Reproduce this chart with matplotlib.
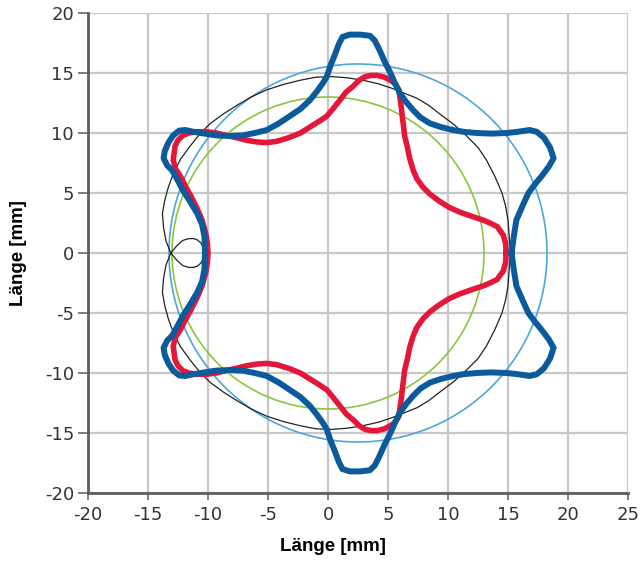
import numpy as np
import matplotlib
matplotlib.use("Agg")
import matplotlib.pyplot as plt
from matplotlib.patches import Circle

plt.rcParams["axes.unicode_minus"] = False
plt.rcParams["font.family"] = ["DejaVu Sans"]

# upper half of each contour, lower half is the mirror
blue_x = [15.3, 15.5, 15.7, 16.2, 16.7, 17.3, 17.8, 18.4, 18.8, 18.5, 18.0, 17.4, 16.8,
          15.8, 14.9, 13.6, 12.4, 11.3, 10.4, 9.4, 8.5, 7.7, 7.1, 6.5, 6.0, 5.6, 5.2,
          4.7, 4.3, 3.9, 3.5, 2.7, 1.8, 1.2, 0.9, 0.6, 0.2, -0.1, -0.4, -0.9, -1.5,
          -2.3, -3.2, -4.1, -5.1, -6.1, -7.1, -8.2, -9.3, -10.3, -11.2, -11.9, -12.4,
          -12.9, -13.3, -13.6, -13.7, -13.4, -13.0, -12.6, -12.1, -11.5, -10.9, -10.5,
          -10.3, -10.25]
blue_y = [0.0, 1.5, 2.75, 3.9, 5.0, 5.8, 6.4, 7.2, 7.9, 8.8, 9.6, 10.1, 10.25,
          10.1, 10.0, 9.95, 10.0, 10.1, 10.25, 10.5, 10.8, 11.3, 11.9, 12.6, 13.3, 14.1, 15.0,
          16.0, 16.9, 17.7, 18.1, 18.2, 18.2, 18.0, 17.4, 16.6, 15.6, 14.7, 14.2, 13.5, 12.75,
          12.0, 11.4, 10.8, 10.25, 10.0, 9.8, 9.75, 9.8, 9.95, 10.1, 10.25, 10.2,
          9.8, 9.2, 8.5, 7.9, 7.3, 6.9, 6.2, 5.25, 4.3, 3.3, 2.4,
          1.4, 0.0]

red_x = [14.85, 14.8, 14.6, 14.1, 13.5, 12.9, 12.0, 11.0, 10.1, 9.3, 8.5, 7.9, 7.4, 7.1,
         6.8, 6.6, 6.4, 6.3, 6.2, 6.1, 6.0, 5.9, 5.6, 5.2, 4.7, 4.1, 3.6, 3.1, 2.6,
         2.1, 1.5, 1.0, 0.4, -0.1, -0.7, -1.5, -2.3, -3.3, -4.3, -5.1, -5.9, -6.8,
         -7.6, -8.5, -9.3, -10.1, -10.9, -11.6, -12.1, -12.5, -12.75, -12.9, -12.7,
         -12.3, -11.9, -11.4, -10.9, -10.5, -10.2, -10.05, -10.0]
red_y = [0.0, 0.8, 1.5, 2.2, 2.5, 2.75, 3.05, 3.4, 3.8, 4.3, 4.9, 5.5, 6.2, 6.9,
         7.9, 8.9, 9.7, 10.5, 11.3, 12.2, 12.9, 13.6, 14.1, 14.4, 14.65, 14.8, 14.8, 14.7, 14.4,
         13.9, 13.4, 12.75, 12.0, 11.4, 11.0, 10.5, 10.0, 9.6, 9.3, 9.2, 9.25, 9.4,
         9.6, 9.8, 10.0, 10.1, 10.1, 10.0, 9.8, 9.4, 8.9, 7.75, 7.0,
         6.4, 5.6, 4.7, 3.7, 2.75, 1.7, 0.8, 0.0]

# thin black trochoid: outer arc from the right down to the crossing point
black_x = [15.2, 15.1, 15.0, 14.8, 14.5, 13.9, 13.2, 12.5, 11.6, 10.5, 9.3, 8.4, 7.4,
           6.4, 5.4, 4.2, 2.9, 1.6, 0.3, -1.0, -2.3, -3.7, -5.1, -6.4, -7.6, -8.7,
           -9.8, -10.7, -11.5, -12.3, -12.9, -13.3, -13.6, -13.8, -13.7, -13.5, -13.1]
black_y = [0.0, 1.4, 2.75, 3.9, 5.0, 6.4, 7.75, 8.8, 9.7, 10.7, 11.6, 12.3, 12.9,
           13.3, 13.7, 14.1, 14.4, 14.6, 14.7, 14.65, 14.4, 14.05, 13.6, 13.0, 12.3, 11.6,
           10.8, 9.9, 8.9, 7.8, 6.6, 5.5, 4.4, 3.3, 2.1, 1.0, 0.0]
# small loop, upper half, from its right end back to the crossing
loop_x = [-10.3, -10.4, -10.6, -10.9, -11.2, -11.6, -12.1, -12.6, -13.1]
loop_y = [0.0, 0.5, 0.85, 1.1, 1.2, 1.2, 1.05, 0.6, 0.0]

# reference circles: (centre x, centre y, radius)
circle_lightblue = (2.5, 0.0, 15.75)
circle_green = (0.0, 0.0, 13.0)

xticks = [-20, -15, -10, -5, 0, 5, 10, 15, 20, 25]
yticks = [-20, -15, -10, -5, 0, 5, 10, 15, 20]


def closed(xs, ys):
    xs = np.array(xs)
    ys = np.array(ys)
    return (np.concatenate([xs, xs[::-1][1:]]),
            np.concatenate([ys, -ys[::-1][1:]]))


fig = plt.figure(figsize=(6.41, 5.61), dpi=100)
ax = fig.add_axes([88 / 641, 1 - 493 / 561, 540 / 641, 480 / 561])

grey = "#c8c8c8"
ax.set_xlim(-20, 25)
ax.set_ylim(-20, 20)
ax.set_xticks(xticks)
ax.set_yticks(yticks)
ax.grid(True, color=grey, lw=1.6)
ax.set_axisbelow(True)
for s in ["top", "right"]:
    ax.spines[s].set_visible(False)
for s in ["left", "bottom"]:
    ax.spines[s].set_color("#5e5e5e")
    ax.spines[s].set_linewidth(2.0)
ax.tick_params(colors="#6a6a6a", width=1.2, labelsize=13, labelcolor="#333333")
ax.tick_params(axis="x", length=5, pad=4)
ax.tick_params(axis="y", length=7, pad=3)

cx, cy, r = circle_lightblue
ax.add_patch(Circle((cx, cy), r, fill=False, ec="#4da6dc", lw=1.2, zorder=2))
cx, cy, r = circle_green
ax.add_patch(Circle((cx, cy), r, fill=False, ec="#8cc63f", lw=1.2, zorder=2))

# black path: outer upper arc, lower loop half, upper loop half, outer lower arc
bx = np.array(black_x)
by = np.array(black_y)
lx = np.array(loop_x)
ly = np.array(loop_y)
path_x = np.concatenate([bx, lx[::-1][1:], lx[1:], bx[::-1][1:]])
path_y = np.concatenate([by, -ly[::-1][1:], ly[1:], -by[::-1][1:]])
ax.plot(path_x, path_y, color="#222222", lw=0.9, zorder=3)

rx, ry = closed(red_x, red_y)
ax.plot(rx, ry, color="#e4163a", lw=4.0, solid_joinstyle="round", zorder=4)
bx2, by2 = closed(blue_x, blue_y)
ax.plot(bx2, by2, color="#0a5a9c", lw=4.3, solid_joinstyle="round", zorder=5)

lab_font = dict(family=["Liberation Sans", "DejaVu Sans"], weight="bold", size=13.5)
ax.set_xlabel("Länge [mm]", fontdict=lab_font)
ax.xaxis.set_label_coords(0.454, -0.094)
ax.set_ylabel("Länge [mm]", fontdict=lab_font, labelpad=13)

fig.savefig("out.png", dpi=100)
